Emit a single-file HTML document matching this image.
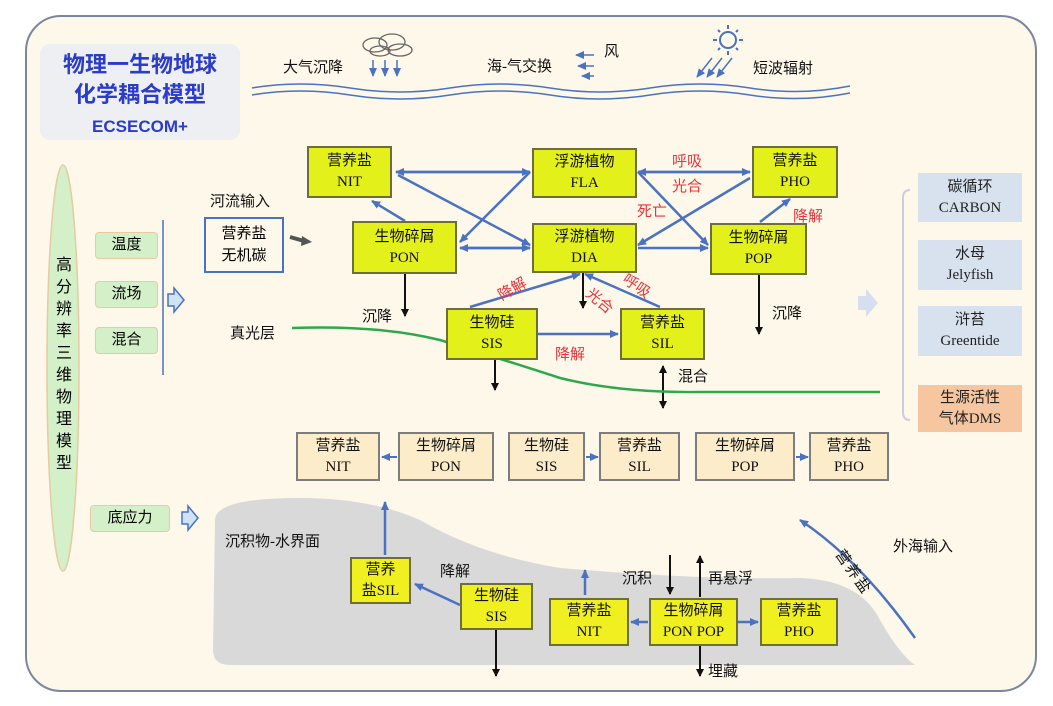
<!DOCTYPE html>
<html><head><meta charset="utf-8"><style>
body{margin:0;width:1053px;height:706px;background:#fff;position:relative;overflow:hidden;font-family:"Liberation Serif","Noto Sans CJK SC",serif;}
.a{position:absolute;}
.y{position:absolute;background:#e4f01a;border:2px solid #6d6e3c;box-sizing:border-box;text-align:center;font-size:15px;line-height:21px;color:#111;display:flex;flex-direction:column;justify-content:center;}
.c{position:absolute;background:#fcecc9;border:2px solid #7d7d7d;box-sizing:border-box;text-align:center;font-size:15px;line-height:21px;color:#111;display:flex;flex-direction:column;justify-content:center;}
.g{position:absolute;background:#d4f0c8;border:1.5px solid #e8c9a0;border-radius:4px;box-sizing:border-box;text-align:center;font-size:15px;line-height:24px;}
.r{position:absolute;background:#d8e2ee;text-align:center;font-size:15px;line-height:21px;color:#222;display:flex;flex-direction:column;justify-content:center;}
.t{position:absolute;font-size:15px;color:#111;white-space:nowrap;}
.red{position:absolute;font-size:15px;color:#e8333a;white-space:nowrap;}
</style></head><body>
<div class="a" style="left:25px;top:15px;width:1008px;height:673px;background:#fdf8ea;border:2px solid #7a869e;border-radius:36px;"></div>
<svg class="a" style="left:0;top:0" width="1053" height="706">
<defs>
<marker id="b" markerUnits="userSpaceOnUse" markerWidth="9" markerHeight="8" refX="8" refY="4" orient="auto"><path d="M0,0 L9,4 L0,8 z" fill="#4a72c0"/></marker>
<marker id="k" markerUnits="userSpaceOnUse" markerWidth="8" markerHeight="8" refX="7" refY="4" orient="auto"><path d="M0,0 L8,4 L0,8 z" fill="#111"/></marker>
</defs>
<path d="M215,520 Q215,498 300,498 Q370,498 420,520 Q480,555 560,568 Q700,580 800,578 Q860,580 880,620 Q900,655 915,665 L230,665 Q213,665 213,650 Z" fill="#d9d9d9"/>
<path d="M252,88 Q300,80 350,88 T450,88 T550,88 T650,88 T750,88 T850,86" stroke="#4a72c0" stroke-width="1.5" fill="none"/>
<path d="M252,95 Q300,87 350,95 T450,95 T550,95 T650,95 T750,95 T850,93" stroke="#4a72c0" stroke-width="1.5" fill="none"/>
<g fill="none" stroke="#666" stroke-width="1.3"><ellipse cx="375" cy="45" rx="12" ry="7"/><ellipse cx="392" cy="42" rx="13" ry="8"/><ellipse cx="400" cy="50" rx="12" ry="6"/><ellipse cx="380" cy="51" rx="10" ry="5"/></g>
<g stroke="#4a72c0" stroke-width="1.5" marker-end="url(#b)"><line x1="373" y1="60" x2="373" y2="76"/><line x1="385" y1="60" x2="385" y2="76"/><line x1="397" y1="60" x2="397" y2="76"/>
<line x1="594" y1="55" x2="576" y2="55"/><line x1="594" y1="66" x2="578" y2="66"/><line x1="594" y1="76" x2="582" y2="76"/>
<line x1="712" y1="58" x2="697" y2="77"/><line x1="722" y1="58" x2="707" y2="77"/><line x1="732" y1="58" x2="717" y2="77"/></g>
<circle cx="728" cy="40" r="8" fill="none" stroke="#4a72c0" stroke-width="2"/>
<g stroke="#4a72c0" stroke-width="2"><line x1="728" y1="25" x2="728" y2="29"/><line x1="728" y1="51" x2="728" y2="55"/><line x1="713" y1="40" x2="717" y2="40"/><line x1="739" y1="40" x2="743" y2="40"/><line x1="718" y1="30" x2="720" y2="32"/><line x1="736" y1="48" x2="738" y2="50"/><line x1="738" y1="30" x2="736" y2="32"/><line x1="718" y1="50" x2="720" y2="48"/></g>
<g stroke="#4a72c0" stroke-width="2.5" fill="none" marker-end="url(#b)">
<line x1="530" y1="172" x2="396" y2="172"/><line x1="396" y1="172" x2="530" y2="172"/>
<line x1="398" y1="175" x2="530" y2="245"/>
<line x1="530" y1="172" x2="460" y2="242"/>
<line x1="460" y1="248" x2="530" y2="248"/><line x1="530" y1="248" x2="460" y2="248"/>
<line x1="405" y1="221" x2="372" y2="201"/>
<line x1="638" y1="172" x2="750" y2="172"/><line x1="750" y1="172" x2="638" y2="172"/>
<line x1="638" y1="172" x2="708" y2="245"/>
<line x1="750" y1="178" x2="638" y2="245"/>
<line x1="638" y1="248" x2="708" y2="248"/>
<line x1="760" y1="222" x2="790" y2="199"/>
<line x1="470" y1="307" x2="580" y2="274"/>
<line x1="660" y1="307" x2="585" y2="274"/>
<line x1="538" y1="334" x2="618" y2="334"/>
<line x1="385" y1="555" x2="385" y2="502"/>
<line x1="460" y1="605" x2="415" y2="584"/>
<line x1="585" y1="595" x2="585" y2="570"/>
<line x1="648" y1="622" x2="631" y2="622"/>
<line x1="738" y1="622" x2="758" y2="622"/>
</g>
<g stroke="#4a72c0" stroke-width="2" marker-end="url(#b)"><line x1="397" y1="457" x2="382" y2="457"/><line x1="586" y1="457" x2="598" y2="457"/><line x1="796" y1="457" x2="808" y2="457"/></g>
<path d="M915,638 Q860,560 800,520" stroke="#4a72c0" stroke-width="2.5" fill="none" marker-end="url(#b)"/>
<g stroke="#111" stroke-width="2" marker-end="url(#k)">
<line x1="405" y1="274" x2="405" y2="316"/><line x1="583" y1="273" x2="583" y2="308"/><line x1="759" y1="275" x2="759" y2="334"/>
<line x1="495" y1="360" x2="495" y2="390"/><line x1="663" y1="390" x2="663" y2="366"/><line x1="663" y1="380" x2="663" y2="408"/>
<line x1="670" y1="555" x2="670" y2="594"/><line x1="700" y1="597" x2="700" y2="556"/><line x1="700" y1="646" x2="700" y2="676"/><line x1="496" y1="630" x2="496" y2="676"/>
</g>
<line x1="290" y1="237" x2="304" y2="241" stroke="#555" stroke-width="4"/><path d="M302,236 L312,242 L301,246 z" fill="#555"/>
<path d="M292,328 Q380,325 440,340 Q520,365 560,378 Q620,393 700,392 L880,392" stroke="#2ea84a" stroke-width="2.5" fill="none"/>
<line x1="163" y1="220" x2="163" y2="375" stroke="#4a72c0" stroke-width="1.5"/>
<path d="M168,294 h6 v-6 l10,12 l-10,12 v-6 h-6z" fill="#cfe3f5" stroke="#4a72c0" stroke-width="1.5"/>
<path d="M182,512 h6 v-6 l10,12 l-10,12 v-6 h-6z" fill="#cfe3f5" stroke="#4a72c0" stroke-width="1.5"/>
<path d="M858,296 h8 v-7 l12,14 l-12,14 v-7 h-8z" fill="#d4dff0"/>
<path d="M910,190 Q903,190 903,198 L903,412 Q903,420 910,420" stroke="#ccd" stroke-width="2" fill="none"/>
<ellipse cx="63" cy="368" rx="16" ry="203" fill="#d4f0c8" stroke="#e8c9a0" stroke-width="1.5"/>
</svg>
<div class="a" style="left:40px;top:44px;width:200px;height:96px;background:#edeff3;border-radius:10px;"></div>
<div class="a" style="left:40px;top:50px;width:200px;text-align:center;font-family:'Liberation Sans','Noto Sans CJK SC',sans-serif;font-weight:bold;color:#2a3cc8;font-size:22px;line-height:30px;">物理一生物地球<br>化学耦合模型<br><span style="font-size:17px">ECSECOM+</span></div>
<div class="t" style="left:283px;top:56px">大气沉降</div>
<div class="t" style="left:487px;top:55px">海-气交换</div>
<div class="t" style="left:604px;top:40px">风</div>
<div class="t" style="left:753px;top:57px">短波辐射</div>
<div class="a" style="left:54px;top:255px;width:20px;font-size:16px;line-height:22px;text-align:center">高分辨率三维物理模型</div>
<div class="g" style="left:95px;top:232px;width:63px;height:27px">温度</div>
<div class="g" style="left:95px;top:281px;width:63px;height:27px">流场</div>
<div class="g" style="left:95px;top:327px;width:63px;height:27px">混合</div>
<div class="g" style="left:90px;top:505px;width:80px;height:27px">底应力</div>
<div class="t" style="left:210px;top:190px">河流输入</div>
<div class="a" style="left:204px;top:217px;width:80px;height:56px;border:2px solid #4a72c0;box-sizing:border-box;background:#fdf8ea;text-align:center;font-size:15px;line-height:22px;padding-top:4px">营养盐<br>无机碳</div>
<div class="y" style="left:307px;top:146px;width:85px;height:52px"><div>营养盐</div><div>NIT</div></div>
<div class="y" style="left:532px;top:148px;width:105px;height:50px"><div>浮游植物</div><div>FLA</div></div>
<div class="y" style="left:752px;top:146px;width:86px;height:52px"><div>营养盐</div><div>PHO</div></div>
<div class="y" style="left:352px;top:221px;width:105px;height:53px"><div>生物碎屑</div><div>PON</div></div>
<div class="y" style="left:532px;top:223px;width:105px;height:50px"><div>浮游植物</div><div>DIA</div></div>
<div class="y" style="left:710px;top:223px;width:97px;height:52px"><div>生物碎屑</div><div>POP</div></div>
<div class="y" style="left:446px;top:308px;width:92px;height:52px"><div>生物硅</div><div>SIS</div></div>
<div class="y" style="left:620px;top:308px;width:85px;height:52px"><div>营养盐</div><div>SIL</div></div>
<div class="red" style="left:672px;top:150px">呼吸</div>
<div class="red" style="left:672px;top:175px">光合</div>
<div class="red" style="left:637px;top:200px">死亡</div>
<div class="red" style="left:793px;top:205px">降解</div>
<div class="red" style="left:497px;top:278px;transform:rotate(-30deg)">降解</div>
<div class="red" style="left:585px;top:290px;transform:rotate(40deg)">光合</div>
<div class="red" style="left:622px;top:275px;transform:rotate(35deg)">呼吸</div>
<div class="red" style="left:555px;top:343px">降解</div>
<div class="t" style="left:362px;top:305px">沉降</div>
<div class="t" style="left:772px;top:302px">沉降</div>
<div class="t" style="left:230px;top:322px">真光层</div>
<div class="t" style="left:678px;top:365px">混合</div>
<div class="r" style="left:918px;top:173px;width:104px;height:49px"><div>碳循环</div><div>CARBON</div></div>
<div class="r" style="left:918px;top:240px;width:104px;height:50px"><div>水母</div><div>Jelyfish</div></div>
<div class="r" style="left:918px;top:306px;width:104px;height:50px"><div>浒苔</div><div>Greentide</div></div>
<div class="r" style="left:918px;top:385px;width:104px;height:47px;background:#f6c6a0"><div>生源活性</div><div>气体DMS</div></div>
<div class="c" style="left:296px;top:432px;width:84px;height:49px"><div>营养盐</div><div>NIT</div></div>
<div class="c" style="left:398px;top:432px;width:96px;height:49px"><div>生物碎屑</div><div>PON</div></div>
<div class="c" style="left:508px;top:432px;width:77px;height:49px"><div>生物硅</div><div>SIS</div></div>
<div class="c" style="left:599px;top:432px;width:81px;height:49px"><div>营养盐</div><div>SIL</div></div>
<div class="c" style="left:695px;top:432px;width:100px;height:49px"><div>生物碎屑</div><div>POP</div></div>
<div class="c" style="left:809px;top:432px;width:80px;height:49px"><div>营养盐</div><div>PHO</div></div>
<div class="t" style="left:225px;top:530px">沉积物-水界面</div>
<div class="t" style="left:440px;top:560px">降解</div>
<div class="t" style="left:622px;top:567px">沉积</div>
<div class="t" style="left:708px;top:567px">再悬浮</div>
<div class="t" style="left:708px;top:660px">埋藏</div>
<div class="t" style="left:893px;top:535px">外海输入</div>
<div class="t" style="left:848px;top:545px;transform:rotate(55deg);transform-origin:left top;letter-spacing:2px">营养盐</div>
<div class="y" style="left:350px;top:557px;width:61px;height:47px;background:#f0f020"><div>营养</div><div>盐SIL</div></div>
<div class="y" style="left:460px;top:583px;width:73px;height:47px;background:#f0f020"><div>生物硅</div><div>SIS</div></div>
<div class="y" style="left:549px;top:598px;width:80px;height:48px;background:#f0f020"><div>营养盐</div><div>NIT</div></div>
<div class="y" style="left:649px;top:598px;width:89px;height:48px;background:#f0f020"><div>生物碎屑</div><div>PON POP</div></div>
<div class="y" style="left:760px;top:598px;width:78px;height:48px;background:#f0f020"><div>营养盐</div><div>PHO</div></div>
</body></html>
